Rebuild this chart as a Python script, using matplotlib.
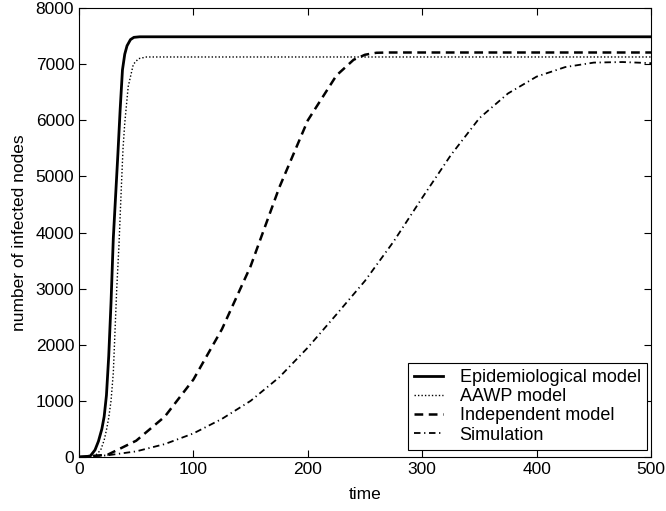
import matplotlib
matplotlib.use("Agg")
import matplotlib.pyplot as plt

plt.rcParams['font.family'] = ['Liberation Sans', 'DejaVu Sans']

epi_t = [0, 5, 10, 14, 17, 20, 22, 24, 26, 28, 30, 32, 34, 36, 38, 40, 42, 45, 48, 53, 60, 500]
epi_y = [0, 2, 20, 125, 280, 500, 720, 1100, 1800, 2750, 3900, 4650, 5400, 6200, 6900, 7180, 7330, 7440, 7480, 7490, 7490, 7490]

aawp_t = [0, 10, 15, 19, 22, 24, 26, 28, 30, 31, 33, 35, 37, 38.5, 40, 43, 47.5, 52, 59, 500]
aawp_y = [0, 5, 40, 125, 300, 480, 700, 1000, 1500, 2000, 3000, 3800, 4800, 5500, 5950, 6600, 7000, 7100, 7130, 7130]

ind_t = [0, 25, 50, 75, 100, 125, 150, 175, 200, 225, 240, 250, 260, 270, 500]
ind_y = [0, 40, 290, 720, 1380, 2280, 3400, 4800, 6000, 6800, 7080, 7170, 7205, 7210, 7210]

sim_t = [0, 25, 50, 75, 100, 125, 150, 175, 200, 225, 250, 275, 300, 325, 350, 375, 400, 425, 450, 475, 500]
sim_y = [0, 30, 100, 230, 420, 680, 1000, 1420, 1950, 2540, 3140, 3840, 4620, 5380, 6040, 6480, 6780, 6950, 7030, 7040, 7020]

fig = plt.figure(figsize=(6.66, 5.11), dpi=100)
ax = fig.add_axes([0.1186, 0.1057, 0.8589, 0.8783])

ax.plot(epi_t, epi_y, color='black', linestyle='-', linewidth=2.0, label='Epidemiological model')
ax.plot(aawp_t, aawp_y, color='black', linestyle=(0, (1, 1.5)), linewidth=1.0, label='AAWP model')
ax.plot(ind_t, ind_y, color='black', linestyle=(0, (3.5, 2.2)), linewidth=1.8, label='Independent model')
ax.plot(sim_t, sim_y, color='black', linestyle=(0, (3.6, 2, 0.7, 2)), linewidth=1.3, label='Simulation')

ax.set_xlim(0, 500)
ax.set_ylim(0, 8000)
ax.set_xticks([0, 100, 200, 300, 400, 500])
ax.set_yticks(range(0, 8001, 1000))
ax.tick_params(direction='in', top=True, right=True, labelsize=12.5, length=5, width=0.8)
for s in ax.spines.values():
    s.set_linewidth(0.8)
ax.set_xlabel('time', fontsize=12.5, labelpad=7)
ax.set_ylabel('number of infected nodes', fontsize=12.5, labelpad=6)

leg = ax.legend(loc='lower right', fontsize=13, frameon=True, fancybox=False,
                edgecolor='black', framealpha=1, handlelength=1.6, handletextpad=0.9,
                borderpad=0.35, labelspacing=0.12, borderaxespad=0,
                bbox_to_anchor=(0.993, 0.0156))
leg.get_frame().set_linewidth(0.8)

fig.savefig('out.png', dpi=100)
